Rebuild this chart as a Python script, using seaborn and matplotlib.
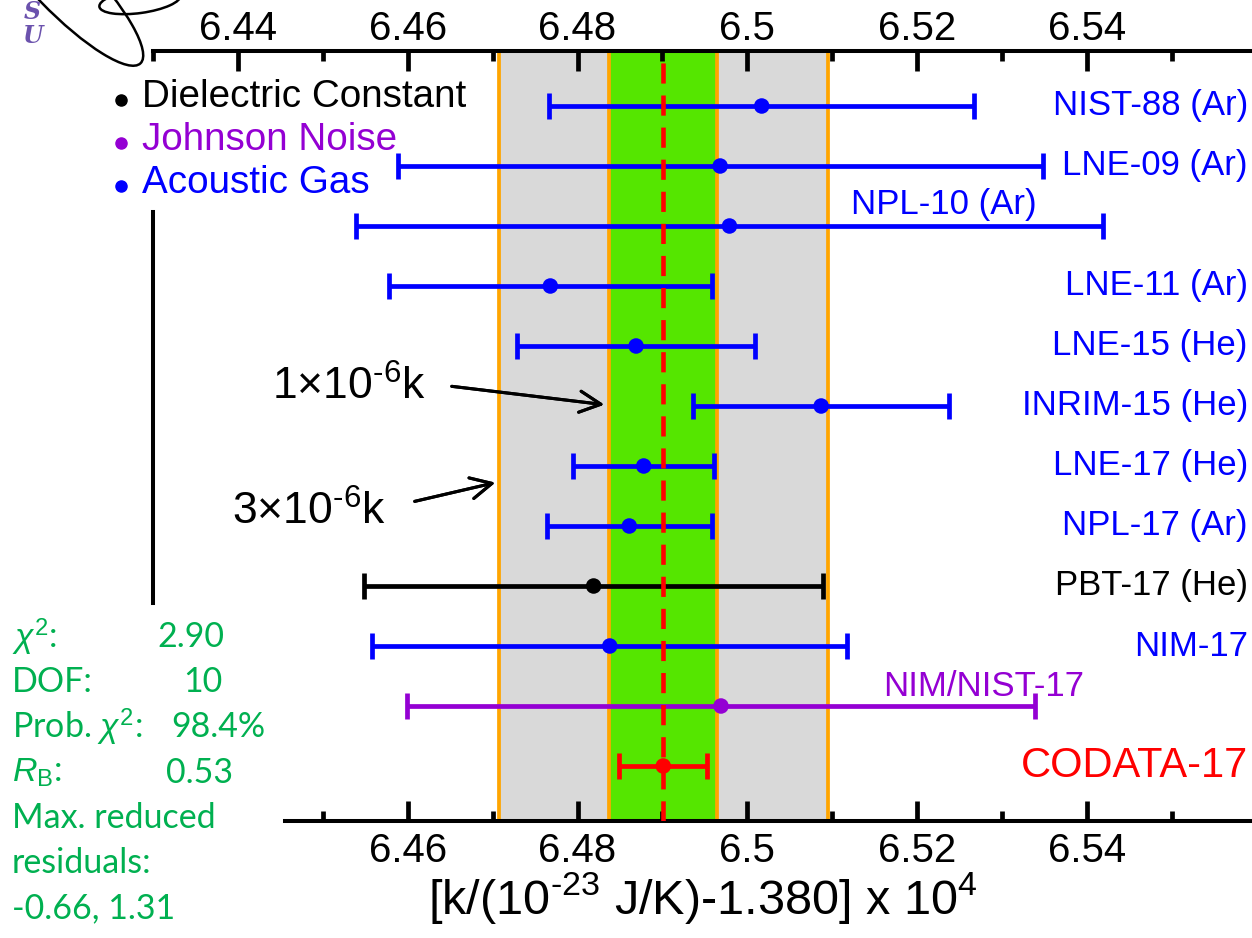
"""k measurements compared with CODATA-17."""

import matplotlib.pyplot as plt
import numpy as np
import pandas as pd
import seaborn as sns
from matplotlib.lines import Line2D
from matplotlib.patches import Ellipse
from matplotlib.transforms import IdentityTransform

W, H = 1252, 938
DPI = 100

labels = ["NIST-88 (Ar)", "LNE-09 (Ar)", "NPL-10 (Ar)", "LNE-11 (Ar)", "LNE-15 (He)",
          "INRIM-15 (He)", "LNE-17 (He)", "NPL-17 (Ar)", "PBT-17 (He)", "NIM-17",
          "NIM/NIST-17", "CODATA-17"]
methods = ["Acoustic Gas"] * 8 + ["Dielectric Constant", "Acoustic Gas", "Johnson Noise", "CODATA"]
values = [6.5017, 6.4968, 6.4979, 6.4768, 6.4869, 6.5087, 6.4878, 6.4861, 6.4819, 6.4838, 6.4969, 6.4901]
uncert = [0.0250, 0.0380, 0.0440, 0.0190, 0.0140, 0.0151, 0.0083, 0.0097, 0.0270, 0.0280, 0.0370, 0.0052]

codata_value = 6.4901
band_1ppm = [6.4837, 6.4964]
band_3ppm = [6.4707, 6.5095]

top_ticks = [6.44, 6.46, 6.48, 6.50, 6.52, 6.54]
top_ticklabels = ["6.44", "6.46", "6.48", "6.5", "6.52", "6.54"]
top_minor = [6.43, 6.45, 6.47, 6.49, 6.51, 6.53, 6.55]
bottom_ticks = [6.46, 6.48, 6.50, 6.52, 6.54]
bottom_ticklabels = ["6.46", "6.48", "6.5", "6.52", "6.54"]
bottom_minor = [6.45, 6.47, 6.49, 6.51, 6.53, 6.55]

legend_entries = ["Dielectric Constant", "Johnson Noise", "Acoustic Gas"]
stats_names = [r"$\chi^2$:", "DOF:", r"Prob. $\chi^2$:", r"$R_{\mathrm{B}}$:"]
stats_values = ["2.90", "10", "98.4%", "0.53"]
stats_extra = ["Max. reduced", "residuals:", "-0.66, 1.31"]

palette = {"Acoustic Gas": "#0000ff", "Dielectric Constant": "#000000",
           "Johnson Noise": "#9400d3", "CODATA": "#ff0000"}
GREEN_TXT = "#00b050"
ORANGE = "#ffa500"
HY = "\u2010"  # hyphen, so exponents keep the short dash of the original


def px(x, y):
    return x / W, 1 - y / H


sns.set_theme(style="white", rc={"axes.facecolor": "white", "figure.facecolor": "white"})
plt.rcParams["font.family"] = ["Liberation Sans", "DejaVu Sans"]
plt.rcParams["mathtext.fontset"] = "custom"
plt.rcParams["mathtext.rm"] = "Liberation Sans"
plt.rcParams["mathtext.it"] = "Liberation Sans:italic"
for key in ["text.color", "axes.labelcolor", "xtick.color", "xtick.labelcolor"]:
    plt.rcParams[key] = "black"

df = pd.DataFrame({"label": labels, "method": methods, "value": values, "u": uncert})
df["row"] = np.arange(len(df))[::-1]

fig = plt.figure(figsize=(W / DPI, H / DPI), dpi=DPI)
ax = fig.add_axes([153 / W, 1 - 821 / H, 1 - 153 / W, (821 - 51) / H])
xmin, xmax = 6.43, 6.43 + (W - 153) / 8490
ax.set_xlim(xmin, xmax)
ax.set_ylim(-55 / 60, 715 / 60)

# uncertainty bands
ax.axvspan(band_3ppm[0], band_3ppm[1], color="#d9d9d9", lw=0, zorder=0)
ax.axvspan(band_1ppm[0], band_1ppm[1], color="#55e600", lw=0, zorder=0.5)
for edge in band_3ppm + band_1ppm:
    ax.axvline(edge, color=ORANGE, lw=2.7, zorder=1)

for _, r in df.iterrows():
    ax.errorbar(r["value"], r["row"], xerr=r["u"], fmt="none", ecolor=palette[r["method"]],
                elinewidth=3.4, capsize=9.5, capthick=3.4, zorder=3)
ax.axvline(codata_value, color="#ff0000", lw=3.3, ls=(0, (4.4, 2.6)), zorder=3.5)
sns.scatterplot(data=df, x="value", y="row", hue="method", palette=palette, s=125,
                linewidth=0, legend=False, ax=ax, zorder=4)
ax.set_ylabel("")

# row labels on the right
for _, r in df.iterrows():
    lab, row = r["label"], r["row"]
    c = palette[r["method"]]
    if lab == "NPL-10 (Ar)":
        ax.text(6.5341, row + 0.35, lab, color=c, fontsize=25, ha="right", va="center")
    elif lab == "NIM/NIST-17":
        ax.text(6.5397, row + 0.33, lab, color=c, fontsize=25, ha="right", va="center")
    elif lab == "CODATA-17":
        ax.text(xmax - 0.0005, row, lab, color=c, fontsize=30, ha="right", va="center")
    else:
        ax.text(xmax - 0.0005, row, lab, color=c, fontsize=25, ha="right", va="center")

# axes styling
for s in ["right", "top"]:
    ax.spines[s].set_visible(False)
ax.spines["bottom"].set_bounds(6.4456, xmax)
ax.spines["left"].set_bounds((766 - 603) / 60, (766 - 212) / 60)
for s in ["bottom", "left"]:
    ax.spines[s].set_linewidth(2.9)
    ax.spines[s].set_color("black")
ax.set_yticks([])
ax.set_xticks(bottom_ticks, bottom_ticklabels)
ax.set_xticks(bottom_minor, minor=True)
ax.tick_params(axis="x", which="both", direction="in", width=3.4, color="black",
               labelcolor="black", labelsize=29, pad=8, bottom=True, top=False)
ax.tick_params(axis="x", which="major", length=14.5)
ax.tick_params(axis="x", which="minor", length=7.2)
ax.set_xlabel("[k/(10$^{" + HY + "23}$ J/K)-1.380] x 10$^{4}$", fontsize=35, labelpad=0,
              color="black")

ax2 = ax.twiny()
ax2.set_xlim(xmin, xmax)
for s in ["right", "left", "bottom"]:
    ax2.spines[s].set_visible(False)
ax2.spines["top"].set_linewidth(2.9)
ax2.spines["top"].set_color("black")
ax2.set_xticks(top_ticks, top_ticklabels)
ax2.set_xticks(top_minor, minor=True)
ax2.tick_params(axis="x", which="both", direction="in", width=3.4, color="black",
                labelcolor="black", labelsize=29, pad=2.5)
ax2.tick_params(axis="x", which="major", length=14.5)
ax2.tick_params(axis="x", which="minor", length=7.2)
ax2.grid(False)
ax.grid(False)

# legend
for i, name in enumerate(legend_entries):
    y = 97 + 43 * i
    c = palette[name]
    fig.add_artist(Line2D([px(121, 0)[0]], [px(0, y + 3)[1]], marker="o", ms=8, color=c,
                          lw=0, transform=fig.transFigure))
    fig.text(*px(142, y), name, color=c, fontsize=27.8, va="center", ha="left")

# arrows with band annotations
fig.text(*px(272, 400), "1$\\times$10$^{" + HY + "6}$k", fontsize=32, color="black",
         ha="left", va="baseline")
fig.text(*px(232, 525), "3$\\times$10$^{" + HY + "6}$k", fontsize=32, color="black",
         ha="left", va="baseline")
arrow = dict(arrowstyle="->", lw=2.2, color="black", mutation_scale=38)
fig.add_artist(plt.annotate("", xy=px(607, 405), xytext=px(449, 386), xycoords="figure fraction",
                            textcoords="figure fraction", arrowprops=arrow))
fig.add_artist(plt.annotate("", xy=px(498, 482), xytext=px(412, 502), xycoords="figure fraction",
                            textcoords="figure fraction", arrowprops=arrow))

# fit statistics
stat_font = ["Lato", "DejaVu Sans"]
value_x = [157, 183, 171, 166]
for i, (name, val) in enumerate(zip(stats_names, stats_values)):
    y = 637 + 45.2 * i
    fig.text(*px(12, y), name, color=GREEN_TXT, fontsize=24.5, family=stat_font, va="center")
    fig.text(*px(value_x[i], y), val, color=GREEN_TXT, fontsize=24.5, family=stat_font, va="center")
for j, line in enumerate(stats_extra):
    y = 637 + 45.2 * (4 + j)
    fig.text(*px(12, y), line, color=GREEN_TXT, fontsize=24.5, family=stat_font, va="center")

# logo fragment
fig.add_artist(Ellipse((62, H + 18), 226, 58, angle=-46, fill=False, lw=1.8, color="black",
                       transform=IdentityTransform()))
fig.add_artist(Ellipse((140, H - 1), 82, 24, angle=8, fill=False, lw=1.8, color="black",
                       transform=IdentityTransform()))
fig.text(*px(32, 19), "S", color="#6b52ad", fontsize=17, family="DejaVu Serif",
         fontweight="bold", style="italic", ha="center", va="baseline")
fig.text(*px(32, 43), "U", color="#6b52ad", fontsize=17, family="DejaVu Serif",
         fontweight="bold", style="italic", ha="center", va="baseline")

fig.savefig("out.png", dpi=DPI)
